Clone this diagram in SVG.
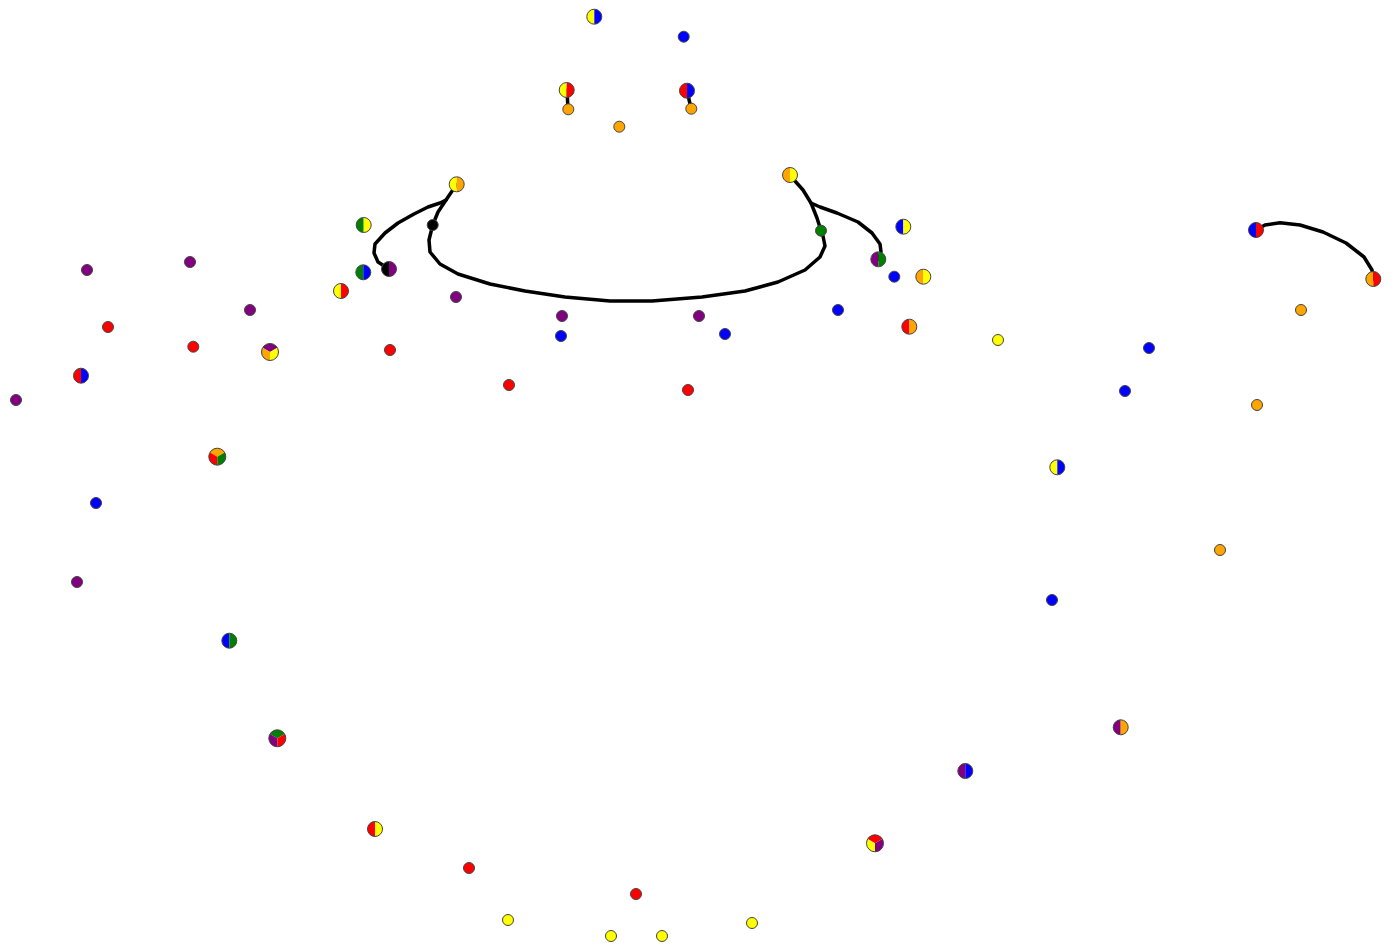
<svg xmlns="http://www.w3.org/2000/svg" xmlns:xlink="http://www.w3.org/1999/xlink" width="1395" height="949" viewBox="0 0 1395 949">
<style>
.e{fill:none;stroke:#000;stroke-width:3.5;stroke-linejoin:round;stroke-linecap:round}
.o{fill:none;stroke:#444;stroke-width:1}
.s{stroke:#444;stroke-width:1}
</style>
<defs>
<path id="hl" d="M0,-7.5A7.5,7.5 0 0 0 0,7.5Z"/>
<path id="hr" d="M0,-7.5A7.5,7.5 0 0 1 0,7.5Z"/>
<circle id="ho" r="7.5" class="o"/>
<path id="tt" d="M0,0L-7.36,-4.25A8.5,8.5 0 0 1 7.36,-4.25Z"/>
<path id="tr" d="M0,0L7.36,-4.25A8.5,8.5 0 0 1 0,8.5Z"/>
<path id="tl" d="M0,0L0,8.5A8.5,8.5 0 0 1 -7.36,-4.25Z"/>
<circle id="to" r="8.5" class="o"/>
</defs>
<rect width="1395" height="949" fill="#fff"/>
<g id="edges">
<path class="e" d="M567,90 L568,109"/>
<path class="e" d="M687,91 L691,108"/>
<path class="e" d="M456.7,184.3 L446,200 L438,212 L432.7,225 L429,240 L430,252 L440,264 L458,274 L490,284 L525,291 L565,297 L610,301 L652,301 L702,297 L745,291 L778,282 L805,270 L820,257 L825,246 L823,236 L821,230.7 L817,218 L811,203 L803,190 L795,181 L790,175"/>
<path class="e" d="M446,200 L440,203 L428,207 L414,214 L398,223 L385,233 L375,244 L374,253 L378,262 L389,269"/>
<path class="e" d="M811,203 L820,207 L837,213 L858,222 L872,233 L880,244 L881,252 L878.3,259.3"/>
<path class="e" d="M1256,230 L1265,225 L1280,222.7 L1300,225 L1323,232 L1346,243 L1364,257 L1372,270 L1373.3,279"/>
</g>
<g id="nodes">
<g id="h1" transform="translate(594.3,16.7)"><use href="#hl" fill="#ffff00"/><use href="#hr" fill="#0000ff"/><use href="#ho"/></g>
<g id="h2" transform="translate(566.7,90)"><use href="#hl" fill="#ffff00"/><use href="#hr" fill="#ff0000"/><use href="#ho"/></g>
<g id="h3" transform="translate(687,90.7)"><use href="#hl" fill="#ff0000"/><use href="#hr" fill="#0000ff"/><use href="#ho"/></g>
<g id="h4" transform="translate(456.7,184.3)"><use href="#hl" fill="#ffff00"/><use href="#hr" fill="#ffa500"/><use href="#ho"/></g>
<g id="h5" transform="translate(790,175)"><use href="#hl" fill="#ffa500"/><use href="#hr" fill="#ffff00"/><use href="#ho"/></g>
<g id="h6" transform="translate(363.7,225)"><use href="#hl" fill="#008000"/><use href="#hr" fill="#ffff00"/><use href="#ho"/></g>
<g id="h7" transform="translate(363.3,272.3)"><use href="#hl" fill="#008000"/><use href="#hr" fill="#0000ff"/><use href="#ho"/></g>
<g id="h8" transform="translate(389,269)"><use href="#hl" fill="#000000"/><use href="#hr" fill="#800080"/><use href="#ho"/></g>
<g id="h9" transform="translate(341,291)"><use href="#hl" fill="#ffff00"/><use href="#hr" fill="#ff0000"/><use href="#ho"/></g>
<g id="h10" transform="translate(903.3,226.7)"><use href="#hl" fill="#0000ff"/><use href="#hr" fill="#ffff00"/><use href="#ho"/></g>
<g id="h11" transform="translate(878.3,259.3)"><use href="#hl" fill="#800080"/><use href="#hr" fill="#008000"/><use href="#ho"/></g>
<g id="h12" transform="translate(923.3,276.7)"><use href="#hl" fill="#ffa500"/><use href="#hr" fill="#ffff00"/><use href="#ho"/></g>
<g id="h13" transform="translate(909.3,326.7)"><use href="#hl" fill="#ff0000"/><use href="#hr" fill="#ffa500"/><use href="#ho"/></g>
<g id="h14" transform="translate(1256,230)"><use href="#hl" fill="#0000ff"/><use href="#hr" fill="#ff0000"/><use href="#ho"/></g>
<g id="h15" transform="translate(1373.3,279)"><use href="#hl" fill="#ffa500"/><use href="#hr" fill="#ff0000"/><use href="#ho"/></g>
<g id="h16" transform="translate(1057.3,467.3)"><use href="#hl" fill="#ffff00"/><use href="#hr" fill="#0000ff"/><use href="#ho"/></g>
<g id="h17" transform="translate(81,375.7)"><use href="#hl" fill="#ff0000"/><use href="#hr" fill="#0000ff"/><use href="#ho"/></g>
<g id="h18" transform="translate(229.3,640.7)"><use href="#hl" fill="#0000ff"/><use href="#hr" fill="#008000"/><use href="#ho"/></g>
<g id="h19" transform="translate(375,829)"><use href="#hl" fill="#ff0000"/><use href="#hr" fill="#ffff00"/><use href="#ho"/></g>
<g id="h20" transform="translate(1120.7,727.3)"><use href="#hl" fill="#800080"/><use href="#hr" fill="#ffa500"/><use href="#ho"/></g>
<g id="h21" transform="translate(965.3,771)"><use href="#hl" fill="#800080"/><use href="#hr" fill="#0000ff"/><use href="#ho"/></g>
<g id="t1" transform="translate(270,352)"><use href="#tt" fill="#800080"/><use href="#tl" fill="#ffa500"/><use href="#tr" fill="#ffff00"/><use href="#to"/></g>
<g id="t2" transform="translate(217.3,456.7)"><use href="#tt" fill="#ffa500"/><use href="#tl" fill="#ff0000"/><use href="#tr" fill="#008000"/><use href="#to"/></g>
<g id="t3" transform="translate(277.3,738.3)"><use href="#tt" fill="#008000"/><use href="#tl" fill="#800080"/><use href="#tr" fill="#ff0000"/><use href="#to"/></g>
<g id="t4" transform="translate(875,843.3)"><use href="#tt" fill="#ff0000"/><use href="#tl" fill="#ffff00"/><use href="#tr" fill="#800080"/><use href="#to"/></g>
<g id="s1"><circle class="s" cx="683.7" cy="36.7" r="5.5" fill="#0000ff"/></g>
<g id="s2"><circle class="s" cx="568.3" cy="109.3" r="5.5" fill="#ffa500"/></g>
<g id="s3"><circle class="s" cx="691.3" cy="108.7" r="5.5" fill="#ffa500"/></g>
<g id="s4"><circle class="s" cx="619.3" cy="126.7" r="5.5" fill="#ffa500"/></g>
<g id="s5"><circle class="s" cx="432.7" cy="225" r="5.5" fill="#000000"/></g>
<g id="s6"><circle class="s" cx="821" cy="230.7" r="5.5" fill="#008000"/></g>
<g id="s7"><circle class="s" cx="894.3" cy="276.7" r="5.5" fill="#0000ff"/></g>
<g id="s8"><circle class="s" cx="456" cy="297" r="5.5" fill="#800080"/></g>
<g id="s9"><circle class="s" cx="562" cy="316" r="5.5" fill="#800080"/></g>
<g id="s10"><circle class="s" cx="561" cy="336" r="5.5" fill="#0000ff"/></g>
<g id="s11"><circle class="s" cx="699" cy="316" r="5.5" fill="#800080"/></g>
<g id="s12"><circle class="s" cx="725" cy="334" r="5.5" fill="#0000ff"/></g>
<g id="s13"><circle class="s" cx="838" cy="310" r="5.5" fill="#0000ff"/></g>
<g id="s14"><circle class="s" cx="998" cy="340" r="5.5" fill="#ffff00"/></g>
<g id="s15"><circle class="s" cx="1301" cy="310" r="5.5" fill="#ffa500"/></g>
<g id="s16"><circle class="s" cx="1149" cy="348" r="5.5" fill="#0000ff"/></g>
<g id="s17"><circle class="s" cx="1125" cy="391" r="5.5" fill="#0000ff"/></g>
<g id="s18"><circle class="s" cx="1257" cy="405" r="5.5" fill="#ffa500"/></g>
<g id="s19"><circle class="s" cx="1220" cy="550" r="5.5" fill="#ffa500"/></g>
<g id="s20"><circle class="s" cx="1052" cy="600" r="5.5" fill="#0000ff"/></g>
<g id="s21"><circle class="s" cx="752" cy="923" r="5.5" fill="#ffff00"/></g>
<g id="s22"><circle class="s" cx="662" cy="936" r="5.5" fill="#ffff00"/></g>
<g id="s23"><circle class="s" cx="611" cy="936" r="5.5" fill="#ffff00"/></g>
<g id="s24"><circle class="s" cx="636" cy="894" r="5.5" fill="#ff0000"/></g>
<g id="s25"><circle class="s" cx="508" cy="920" r="5.5" fill="#ffff00"/></g>
<g id="s26"><circle class="s" cx="469" cy="868" r="5.5" fill="#ff0000"/></g>
<g id="s27"><circle class="s" cx="77" cy="582" r="5.5" fill="#800080"/></g>
<g id="s28"><circle class="s" cx="96" cy="503" r="5.5" fill="#0000ff"/></g>
<g id="s29"><circle class="s" cx="16" cy="400" r="5.5" fill="#800080"/></g>
<g id="s30"><circle class="s" cx="108" cy="327" r="5.5" fill="#ff0000"/></g>
<g id="s31"><circle class="s" cx="193.3" cy="346.7" r="5.5" fill="#ff0000"/></g>
<g id="s32"><circle class="s" cx="250" cy="310" r="5.5" fill="#800080"/></g>
<g id="s33"><circle class="s" cx="87" cy="270" r="5.5" fill="#800080"/></g>
<g id="s34"><circle class="s" cx="190" cy="262" r="5.5" fill="#800080"/></g>
<g id="s35"><circle class="s" cx="390" cy="350" r="5.5" fill="#ff0000"/></g>
<g id="s36"><circle class="s" cx="509" cy="385" r="5.5" fill="#ff0000"/></g>
<g id="s37"><circle class="s" cx="688" cy="390" r="5.5" fill="#ff0000"/></g>
</g>
</svg>
